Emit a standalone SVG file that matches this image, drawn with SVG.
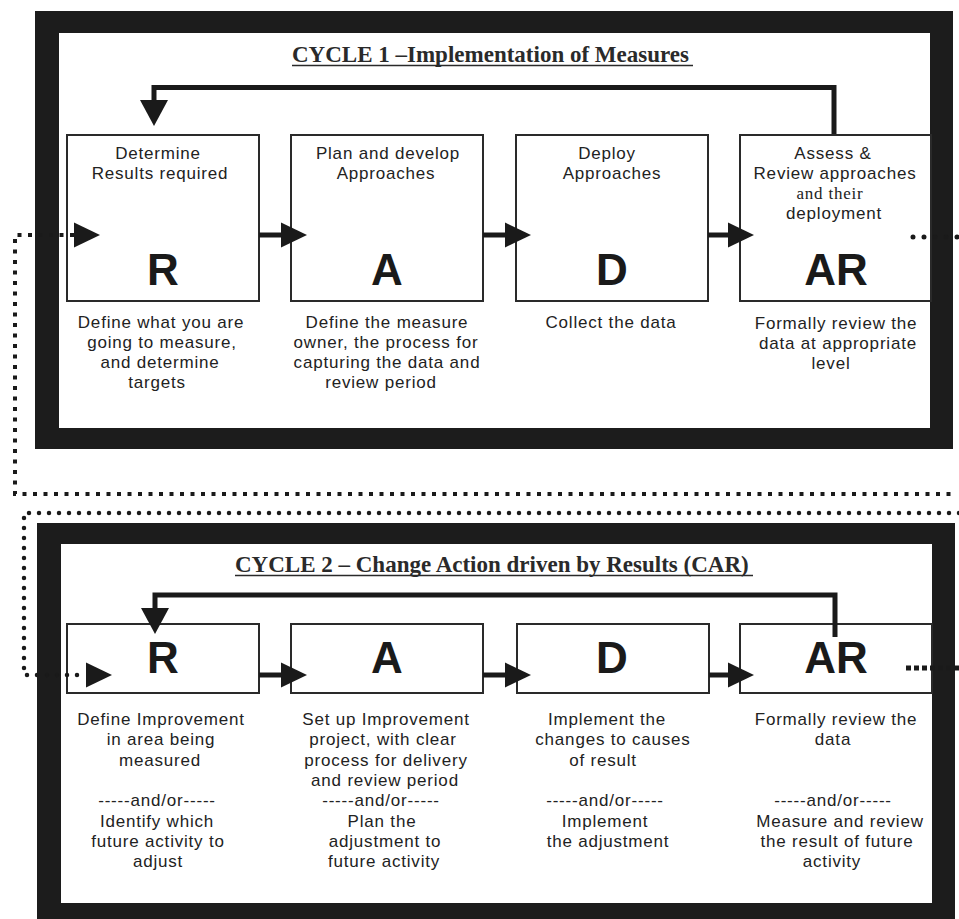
<svg xmlns="http://www.w3.org/2000/svg" xmlns:xlink="http://www.w3.org/1999/xlink" width="959" height="919" viewBox="0 0 959 919">
<style>
.t{font-family:"Liberation Sans",Arial,sans-serif;font-size:17px;letter-spacing:0.8px;fill:#222;text-anchor:middle}
.ts{font-family:"Liberation Serif","Times New Roman",serif;font-size:17px;letter-spacing:0.8px;fill:#222;text-anchor:middle}
.big{font-family:"Liberation Sans",Arial,sans-serif;font-weight:bold;font-size:44px;fill:#1a1a1a;text-anchor:middle}
.title{font-family:"Liberation Serif","Times New Roman",serif;font-weight:bold;font-size:23px;fill:#2a2a2a}
.ul{stroke:#2a2a2a;stroke-width:1.6}
.box{fill:none;stroke:#2a2a2a;stroke-width:2}
.frame{fill:#1c1c1c;fill-rule:evenodd}
.ln{fill:none;stroke:#1a1a1a;stroke-width:5}
.sq{fill:none;stroke:#1a1a1a;stroke-width:4;stroke-dasharray:4 6.5}
.rd{fill:none;stroke:#1a1a1a;stroke-width:4.5;stroke-linecap:round;stroke-dasharray:0 10}
.ah{fill:#1a1a1a}
</style>
<defs>
<path id="ahR" class="ah" d="M0,-12.5 L26,0 L0,12.5 Z"/>
<path id="ahD" class="ah" d="M-14,0 L14,0 L0,26 Z"/>
</defs>
<rect width="959" height="919" fill="#fff"/>

<g id="frames">
<path id="frame1" class="frame" d="M35,11 H953 V449 H35 Z M59,33 V428 H930 V33 Z"/>
<path id="frame2" class="frame" d="M37,523 H955 V930 H37 Z M61,544 V903 H932 V544 Z"/>
</g>

<g id="titles">
<text class="title" x="292" y="62">CYCLE 1 –Implementation of Measures</text>
<line class="ul" x1="292" y1="65.5" x2="693" y2="65.5"/>
<text class="title" x="235" y="572">CYCLE 2 – Change Action driven by Results (CAR)</text>
<line class="ul" x1="235" y1="575.5" x2="753" y2="575.5"/>
</g>

<g id="c1-R">
<rect class="box" x="67" y="135" width="192" height="166"/>
<text class="t" x="158" y="159">Determine</text>
<text class="t" x="160" y="179">Results required</text>
<text class="big" x="163" y="285">R</text>
<text class="t" x="161" y="328">Define what you are</text>
<text class="t" x="162" y="348">going to measure,</text>
<text class="t" x="160" y="368">and determine</text>
<text class="t" x="157" y="388">targets</text>
</g>
<g id="c1-A">
<rect class="box" x="291" y="135" width="192" height="166"/>
<text class="t" x="388" y="159">Plan and develop</text>
<text class="t" x="386" y="179">Approaches</text>
<text class="big" x="387" y="285">A</text>
<text class="t" x="387" y="328">Define the measure</text>
<text class="t" x="386" y="348">owner, the process for</text>
<text class="t" x="387" y="368">capturing the data and</text>
<text class="t" x="381" y="388">review period</text>
</g>
<g id="c1-D">
<rect class="box" x="516" y="135" width="192" height="166"/>
<text class="t" x="607" y="159">Deploy</text>
<text class="t" x="612" y="179">Approaches</text>
<text class="big" x="612" y="285">D</text>
<text class="t" x="611" y="328">Collect the data</text>
</g>
<g id="c1-AR">
<rect class="box" x="740" y="135" width="191" height="166"/>
<text class="t" x="833" y="159">Assess &amp;</text>
<text class="t" x="835" y="179">Review approaches</text>
<text class="ts" x="830" y="199">and their</text>
<text class="t" x="834" y="219">deployment</text>
<text class="big" x="836" y="285">AR</text>
<text class="t" x="836" y="329">Formally review the</text>
<text class="t" x="838" y="349">data at appropriate</text>
<text class="t" x="831" y="369">level</text>
</g>

<g id="c2-R">
<rect class="box" x="67" y="624" width="192" height="69"/>
<text class="big" x="163" y="673">R</text>
<text class="t" x="161" y="725">Define Improvement</text>
<text class="t" x="161" y="745.3">in area being</text>
<text class="t" x="160" y="765.6">measured</text>
<text class="t" x="157" y="806.2">-----and/or-----</text>
<text class="t" x="157" y="826.5">Identify which</text>
<text class="t" x="158" y="846.8">future activity to</text>
<text class="t" x="158" y="867.1">adjust</text>
</g>
<g id="c2-A">
<rect class="box" x="291" y="624" width="192" height="69"/>
<text class="big" x="387" y="673">A</text>
<text class="t" x="386" y="725">Set up Improvement</text>
<text class="t" x="383" y="745.3">project, with clear</text>
<text class="t" x="386" y="765.6">process for delivery</text>
<text class="t" x="385" y="785.9">and review period</text>
<text class="t" x="381" y="806.2">-----and/or-----</text>
<text class="t" x="382" y="826.5">Plan the</text>
<text class="t" x="385" y="846.8">adjustment to</text>
<text class="t" x="384" y="867.1">future activity</text>
</g>
<g id="c2-D">
<rect class="box" x="517" y="624" width="192" height="69"/>
<text class="big" x="612" y="673">D</text>
<text class="t" x="607" y="725">Implement the</text>
<text class="t" x="613" y="745.3">changes to causes</text>
<text class="t" x="603" y="765.6">of result</text>
<text class="t" x="605" y="806.2">-----and/or-----</text>
<text class="t" x="605" y="826.5">Implement</text>
<text class="t" x="608" y="846.8">the adjustment</text>
</g>
<g id="c2-AR">
<rect class="box" x="740" y="624" width="192" height="69"/>
<text class="big" x="836" y="673">AR</text>
<text class="t" x="836" y="725">Formally review the</text>
<text class="t" x="833" y="745.3">data</text>
<text class="t" x="833" y="806.2">-----and/or-----</text>
<text class="t" x="840" y="826.5">Measure and review</text>
<text class="t" x="837" y="846.8">the result of future</text>
<text class="t" x="832" y="867.1">activity</text>
</g>

<g id="connectors">
<!-- cycle 1 -->
<path class="ln" d="M834,134 V87.5 H154 V102"/>
<use xlink:href="#ahD" x="154" y="100"/>
<path class="ln" d="M259,235 H283"/>
<use xlink:href="#ahR" x="281" y="235"/>
<path class="ln" d="M483,235 H507"/>
<use xlink:href="#ahR" x="505" y="235"/>
<path class="ln" d="M708,235 H730"/>
<use xlink:href="#ahR" x="728" y="235"/>
<path class="sq" d="M74,235 H15 V494 H952"/>
<use xlink:href="#ahR" x="74" y="235"/>
<path class="rd" style="stroke-dasharray:0 11;stroke-width:5" d="M913,237 H959"/>
<!-- cycle 2 -->
<path class="ln" d="M835,637 V595 H155 V610"/>
<use xlink:href="#ahD" x="155" y="608"/>
<path class="ln" d="M259,675 H283"/>
<use xlink:href="#ahR" x="281" y="675"/>
<path class="ln" d="M483,675 H507"/>
<use xlink:href="#ahR" x="505" y="675"/>
<path class="ln" d="M709,675 H730"/>
<use xlink:href="#ahR" x="728" y="675"/>
<path class="rd" d="M959,513 H24 V675 H86"/>
<use xlink:href="#ahR" x="86" y="675"/>
<path class="ln" style="stroke-dasharray:5 3" d="M906,668 H959"/>
</g>
</svg>
